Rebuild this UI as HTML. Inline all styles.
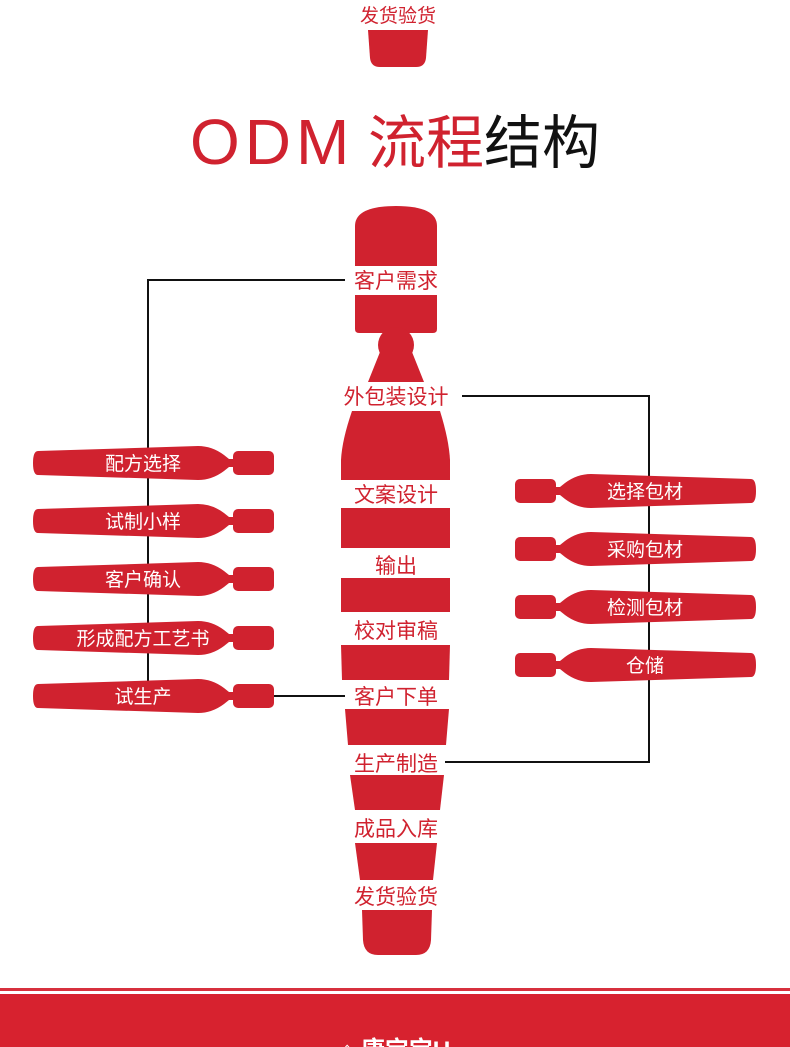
<!DOCTYPE html>
<html><head><meta charset="utf-8"><style>
html,body{margin:0;padding:0;background:#fff;}
body{width:790px;height:1047px;overflow:hidden;position:relative;}
svg{display:block}
text{font-family:"Liberation Sans","Noto Sans CJK SC",sans-serif;}
</style></head><body>
<svg width="790" height="1047" viewBox="0 0 790 1047" xmlns="http://www.w3.org/2000/svg">
<defs>
<g id="pill">
<path d="M4,-12 L164,-17 Q178,-17 190,-8 L195,-4 L201,-4 L201,4 L195,4 L190,8 Q178,17 164,17 L4,12 Q-1,12 -1,0 Q-1,-12 4,-12 Z" fill="#d0222f"/>
<rect x="199" y="-12" width="41" height="24" rx="5" fill="#d0222f"/>
</g>
</defs>
<path d="M368,30 H428 L426,58 Q425,67 416,67 H380 Q371,67 370,58 Z" fill="#d0222f"/>
<text x="398" y="22" font-size="19" fill="#d0222f" text-anchor="middle">发货验货</text>
<text x="190" y="164" font-size="64" fill="#d0222f" letter-spacing="5" font-family="Liberation Sans, sans-serif">ODM</text>
<text x="368" y="163" font-size="58" fill="#d0222f">流程<tspan fill="#111">结构</tspan></text>
<g stroke="#111" stroke-width="2" fill="none">
<polyline points="345,280 148,280 148,696 345,696"/>
<polyline points="462,396 649,396 649,762 445,762"/>
</g>
<g fill="#d0222f">
<path d="M355,266 V226 Q355,206 396,206 Q437,206 437,226 V266 Z"/>
<path d="M355,295 H437 V329 Q437,333 433,333 H359 Q355,333 355,329 Z"/>
<circle cx="396" cy="345" r="18"/>
<path d="M380,352 H412 L424,382 H368 Z"/>
<path d="M352,411 H440 Q449,440 450,460 V480 H341 V460 Q342,440 352,411 Z"/>
<rect x="341" y="508" width="109" height="40"/>
<rect x="341" y="578" width="109" height="34"/>
<path d="M341,645 H450 L449,680 H342 Z"/>
<path d="M345,709 H449 L446,745 H348 Z"/>
<path d="M350,775 H444 L440,810 H355 Z"/>
<path d="M355,843 H437 L433,880 H360 Z"/>
<path d="M362,910 H432 L431,940 Q430,955 416,955 H378 Q364,955 363,940 Z"/>
</g>
<g font-size="21" fill="#d0222f" text-anchor="middle">
<text x="396" y="288">客户需求</text>
<text x="396" y="404">外包装设计</text>
<text x="396" y="502">文案设计</text>
<text x="396" y="573">输出</text>
<text x="396" y="638">校对审稿</text>
<text x="396" y="704">客户下单</text>
<text x="396" y="771">生产制造</text>
<text x="396" y="836">成品入库</text>
<text x="396" y="904">发货验货</text>
</g>
<use href="#pill" transform="translate(34,463)"/>
<use href="#pill" transform="translate(34,521)"/>
<use href="#pill" transform="translate(34,579)"/>
<use href="#pill" transform="translate(34,638)"/>
<use href="#pill" transform="translate(34,696)"/>
<use href="#pill" transform="translate(755,491) scale(-1,1)"/>
<use href="#pill" transform="translate(755,549) scale(-1,1)"/>
<use href="#pill" transform="translate(755,607) scale(-1,1)"/>
<use href="#pill" transform="translate(755,665) scale(-1,1)"/>
<g font-size="19" fill="#fff" text-anchor="middle">
<text x="143" y="470">配方选择</text>
<text x="143" y="528">试制小样</text>
<text x="143" y="586">客户确认</text>
<text x="143" y="645">形成配方工艺书</text>
<text x="143" y="703">试生产</text>
<text x="645" y="498">选择包材</text>
<text x="645" y="556">采购包材</text>
<text x="645" y="614">检测包材</text>
<text x="645" y="672">仓储</text>
</g>
<rect x="0" y="988" width="790" height="3" fill="#d7303d"/>
<rect x="0" y="994" width="790" height="53" fill="#d7222f"/>
<text x="395" y="1058" font-size="24" fill="#fff" text-anchor="middle" font-weight="bold">⌂ 康宝宝U</text>
</svg>
</body></html>
